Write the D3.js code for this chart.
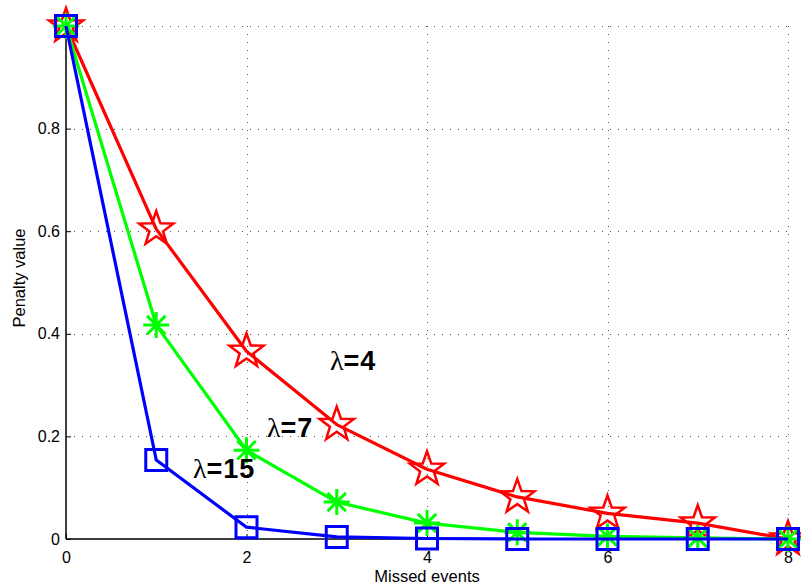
<!DOCTYPE html>
<html>
<head>
<meta charset="utf-8">
<script src="https://cdn.jsdelivr.net/npm/d3@7"></script>
<style>
  html, body { margin: 0; padding: 0; background: #fff; }
  svg text { font-family: "Liberation Sans", Arial, Helvetica, sans-serif; }
</style>
</head>
<body>
<svg id="chart" width="801" height="586"></svg>
<script>
// Missed events on the x axis
const missed = [0, 1, 2, 3, 4, 5, 6, 7, 8];

// Penalty curves for three decay rates
const penaltyL4  = [1, 0.604, 0.366, 0.223, 0.136, 0.082, 0.050, 0.031, 0];
const penaltyL7  = [1, 0.417, 0.173, 0.072, 0.031, 0.013, 0.005, 0.002, 0];
const penaltyL15 = [1, 0.154, 0.023, 0.004, 0.001, 0, 0, 0, 0];

const xTicks = [0, 2, 4, 6, 8];
const yTicks = [0, 0.2, 0.4, 0.6, 0.8];
const yGrid  = [0.2, 0.4, 0.6, 0.8, 1];

const series = [
  { lambda: "4",  values: penaltyL4,  color: "#ff0000", marker: "star",
    label: { x: 2.925, y: 0.329 } },
  { lambda: "7",  values: penaltyL7,  color: "#00ff00", marker: "asterisk",
    label: { x: 2.227, y: 0.199 } },
  { lambda: "15", values: penaltyL15, color: "#0000ff", marker: "square",
    label: { x: 1.407, y: 0.119 } }
];

const margin = { left: 66, right: 13, top: 26, bottom: 47 };
const W = 801, H = 586;
const svg = d3.select("#chart");

const x = d3.scaleLinear().domain([0, 8]).range([margin.left, W - margin.right]);
const y = d3.scaleLinear().domain([0, 1]).range([H - margin.bottom, margin.top]);

// dotted grid
const grid = svg.append("g")
  .attr("stroke", "#555").attr("stroke-width", 1).attr("stroke-dasharray", "1,7");
grid.selectAll("line.gx").data(xTicks.filter(d => d > 0)).join("line")
  .attr("x1", d => Math.round(x(d)) + 0.5).attr("x2", d => Math.round(x(d)) + 0.5)
  .attr("y1", y(0)).attr("y2", y(1));
grid.selectAll("line.gy").data(yGrid).join("line")
  .attr("y1", d => Math.round(y(d)) + 0.5).attr("y2", d => Math.round(y(d)) + 0.5)
  .attr("x1", x(0)).attr("x2", x(8));

// axes with inward ticks
const xAxis = d3.axisBottom(x).tickValues(xTicks).tickSize(-5).tickPadding(10)
  .tickFormat(d3.format("d"));
const yAxis = d3.axisLeft(y).tickValues(yTicks).tickSize(-5).tickPadding(6)
  .tickFormat(d => d === 0 ? "0" : d3.format(".1f")(d));

const gx = svg.append("g").attr("transform", `translate(0,${y(0)})`).call(xAxis);
const gy = svg.append("g").attr("transform", `translate(${x(0)},0)`).call(yAxis);
[gx, gy].forEach(g => {
  g.select(".domain").attr("stroke", "#000").attr("stroke-width", 1.5);
  g.selectAll(".tick line").attr("stroke", "#000");
  g.selectAll(".tick text").attr("font-size", 16).attr("fill", "#000")
    .style("font-family", "'Liberation Sans', Arial, sans-serif");
});
gx.select(".domain").attr("d", `M${x(0)},0H${x(8)}`);
gy.select(".domain").attr("d", `M0,${y(0)}V${y(1)}`);
gx.selectAll(".tick text").attr("dy", "0.85em");

// axis titles
svg.append("text").attr("x", x(4)).attr("y", 582).attr("text-anchor", "middle")
  .attr("font-size", 16.5).text("Missed events");
svg.append("text").attr("transform", "translate(25,278) rotate(-90)")
  .attr("text-anchor", "middle").attr("font-size", 16.5).text("Penalty value");

// marker shapes
function starPath(r) {
  const ri = r * 0.4;
  const pts = [];
  for (let i = 0; i < 10; i++) {
    const a = -Math.PI / 2 + i * Math.PI / 5;
    const rr = i % 2 === 0 ? r : ri;
    pts.push([rr * Math.cos(a), rr * Math.sin(a)]);
  }
  return "M" + pts.map(p => p.join(",")).join("L") + "Z";
}
function asteriskPath(r) {
  const d = r * Math.SQRT1_2;
  return `M${-r},0H${r}M0,${-r}V${r}M${-d},${-d}L${d},${d}M${-d},${d}L${d},${-d}`;
}
function squarePath(s) {
  const h = s / 2;
  return `M${-h},${-h}H${h}V${h}H${-h}Z`;
}

const line = d3.line().x((d, i) => x(missed[i])).y(d => y(d));

series.forEach(s => {
  const g = svg.append("g");
  g.append("path").attr("d", line(s.values)).attr("fill", "none")
    .attr("stroke", s.color).attr("stroke-width", 3.2).attr("stroke-linejoin", "round");
  const shape = s.marker === "star" ? starPath(18)
    : s.marker === "asterisk" ? asteriskPath(13) : squarePath(21);
  g.selectAll("path.m").data(s.values).join("path").attr("class", "m")
    .attr("transform", (d, i) => `translate(${x(missed[i])},${y(d)})`)
    .attr("d", shape).attr("fill", "none").attr("stroke", s.color)
    .attr("stroke-width", s.marker === "star" ? 2.5 : 3);
});

// curve labels: a serif lambda followed by the bold value
series.forEach(s => {
  const t = svg.append("text").attr("x", x(s.label.x)).attr("y", y(s.label.y))
    .attr("font-size", 27).attr("fill", "#000");
  t.append("tspan").style("font-family", "'Liberation Serif', 'Times New Roman', serif")
    .attr("font-size", 28).text("λ");
  t.append("tspan").attr("font-weight", "bold").attr("letter-spacing", 1).text("=" + s.lambda);
});
</script>
</body>
</html>
